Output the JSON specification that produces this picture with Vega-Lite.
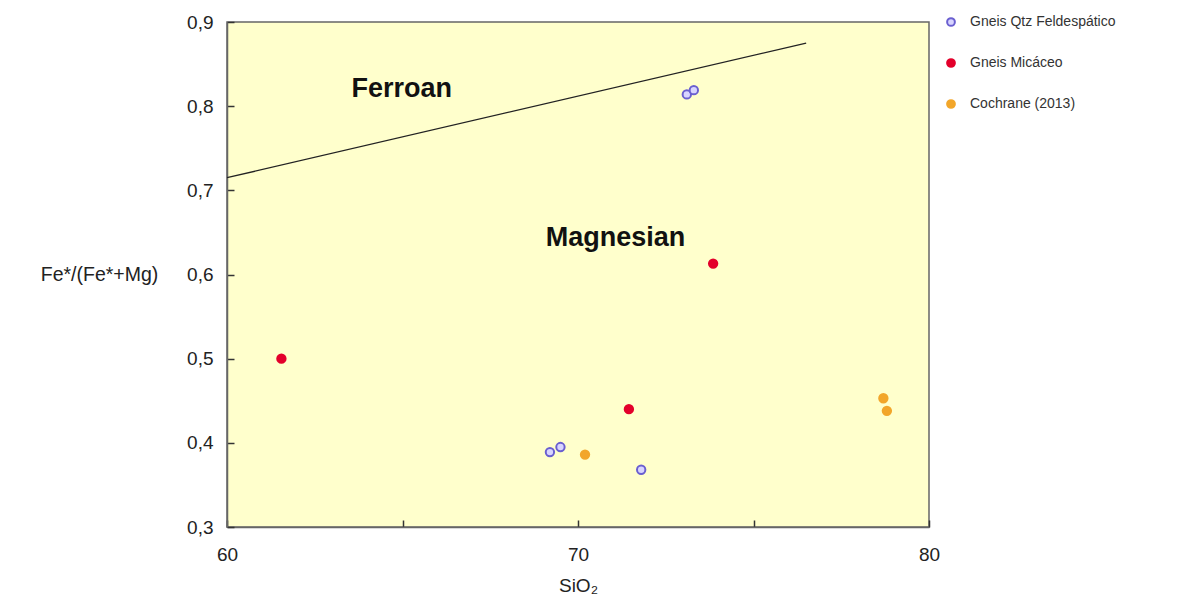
{
  "$schema": "https://vega.github.io/schema/vega-lite/v6.json",
  "autosize": "none",
  "width": 702,
  "height": 505,
  "padding": {"left": 227, "top": 22, "right": 253, "bottom": 78},
  "background": "white",
  "view": {"stroke": "#666", "strokeWidth": 1.5, "fill": "#FFFFCC"},
  "config": {"font": "Liberation Sans"},
  "datasets": {
    "pts": [
      {"series": "Gneis Qtz Feldespático", "SiO2": 73.1, "fe": 0.814},
      {"series": "Gneis Qtz Feldespático", "SiO2": 73.3, "fe": 0.819},
      {"series": "Gneis Qtz Feldespático", "SiO2": 69.2, "fe": 0.389},
      {"series": "Gneis Qtz Feldespático", "SiO2": 69.5, "fe": 0.395},
      {"series": "Gneis Qtz Feldespático", "SiO2": 71.8, "fe": 0.368},
      {"series": "Gneis Micáceo", "SiO2": 61.55, "fe": 0.5},
      {"series": "Gneis Micáceo", "SiO2": 71.45, "fe": 0.44},
      {"series": "Gneis Micáceo", "SiO2": 73.85, "fe": 0.613},
      {"series": "Cochrane (2013)", "SiO2": 70.2, "fe": 0.386},
      {"series": "Cochrane (2013)", "SiO2": 78.7, "fe": 0.453},
      {"series": "Cochrane (2013)", "SiO2": 78.8, "fe": 0.438}
    ],
    "boundary": [
      {"SiO2": 60, "fe": 0.715},
      {"SiO2": 76.5, "fe": 0.875}
    ],
    "labels": [
      {"label": "Ferroan", "SiO2": 64.98, "fe": 0.82},
      {"label": "Magnesian", "SiO2": 71.07, "fe": 0.643}
    ]
  },
  "layer": [
    {
      "data": {"name": "boundary"},
      "mark": {"type": "line", "color": "#222", "strokeWidth": 1.3},
      "encoding": {
        "x": {"field": "SiO2", "type": "quantitative"},
        "y": {"field": "fe", "type": "quantitative"}
      }
    },
    {
      "data": {"name": "labels"},
      "mark": {"type": "text", "fontSize": 27, "fontWeight": "bold", "color": "#111", "font": "Liberation Sans"},
      "encoding": {
        "x": {"field": "SiO2", "type": "quantitative"},
        "y": {"field": "fe", "type": "quantitative"},
        "text": {"field": "label"}
      }
    },
    {
      "data": {"name": "pts"},
      "mark": {"type": "point", "shape": "circle", "size": 70, "strokeWidth": 2, "opacity": 1, "filled": false},
      "encoding": {
        "x": {
          "field": "SiO2", "type": "quantitative",
          "scale": {"domain": [60, 80], "nice": false, "zero": false},
          "axis": {
            "values": [60, 65, 70, 75, 80],
            "labelExpr": "datum.value % 10 == 0 ? format(datum.value, 'd') : ''",
            "labelFlush": false,
            "title": "SiO₂",
            "titleFontSize": 19, "titleFontWeight": "normal", "titleColor": "#222",
            "titlePadding": 12,
            "labelFontSize": 19, "labelColor": "#222", "labelPadding": 25,
            "tickSize": -7, "tickColor": "#333", "tickWidth": 1.5,
            "domainColor": "#666", "domainWidth": 1.5, "grid": false
          }
        },
        "y": {
          "field": "fe", "type": "quantitative",
          "scale": {"domain": [0.3, 0.9], "nice": false, "zero": false},
          "axis": {
            "values": [0.3, 0.4, 0.5, 0.6, 0.7, 0.8, 0.9],
            "labelExpr": "replace(format(datum.value, '.1f'), '.', ',')",
            "labelFlush": false,
            "title": "Fe*/(Fe*+Mg)",
            "titleAngle": 0, "titleX": -128, "titleY": 252, "titleAlign": "center", "titleBaseline": "middle",
            "titleFontSize": 19.5, "titleFontWeight": "normal", "titleColor": "#222",
            "labelFontSize": 19, "labelColor": "#222", "labelPadding": 21,
            "tickSize": -7, "tickColor": "#333", "tickWidth": 1.5,
            "domainColor": "#666", "domainWidth": 1.5, "grid": false
          }
        },
        "color": {
          "field": "series", "type": "nominal",
          "scale": {"domain": ["Gneis Qtz Feldespático", "Gneis Micáceo", "Cochrane (2013)"], "range": ["#6a5fd0", "#e3002b", "#f2a62a"]},
          "legend": {
            "title": null, "orient": "none", "legendX": 717, "legendY": -7,
            "labelFontSize": 14, "labelColor": "#333", "rowPadding": 25, "symbolSize": 60, "symbolStrokeWidth": 2, "labelOffset": 12
          }
        },
        "fill": {
          "field": "series", "type": "nominal",
          "scale": {"domain": ["Gneis Qtz Feldespático", "Gneis Micáceo", "Cochrane (2013)"], "range": ["#d8d4ff", "#e3002b", "#f2a62a"]},
          "legend": {
            "title": null, "orient": "none", "legendX": 717, "legendY": -7,
            "labelFontSize": 14, "labelColor": "#333", "rowPadding": 25, "symbolSize": 60, "symbolStrokeWidth": 2, "labelOffset": 12
          }
        }
      }
    }
  ]
}
